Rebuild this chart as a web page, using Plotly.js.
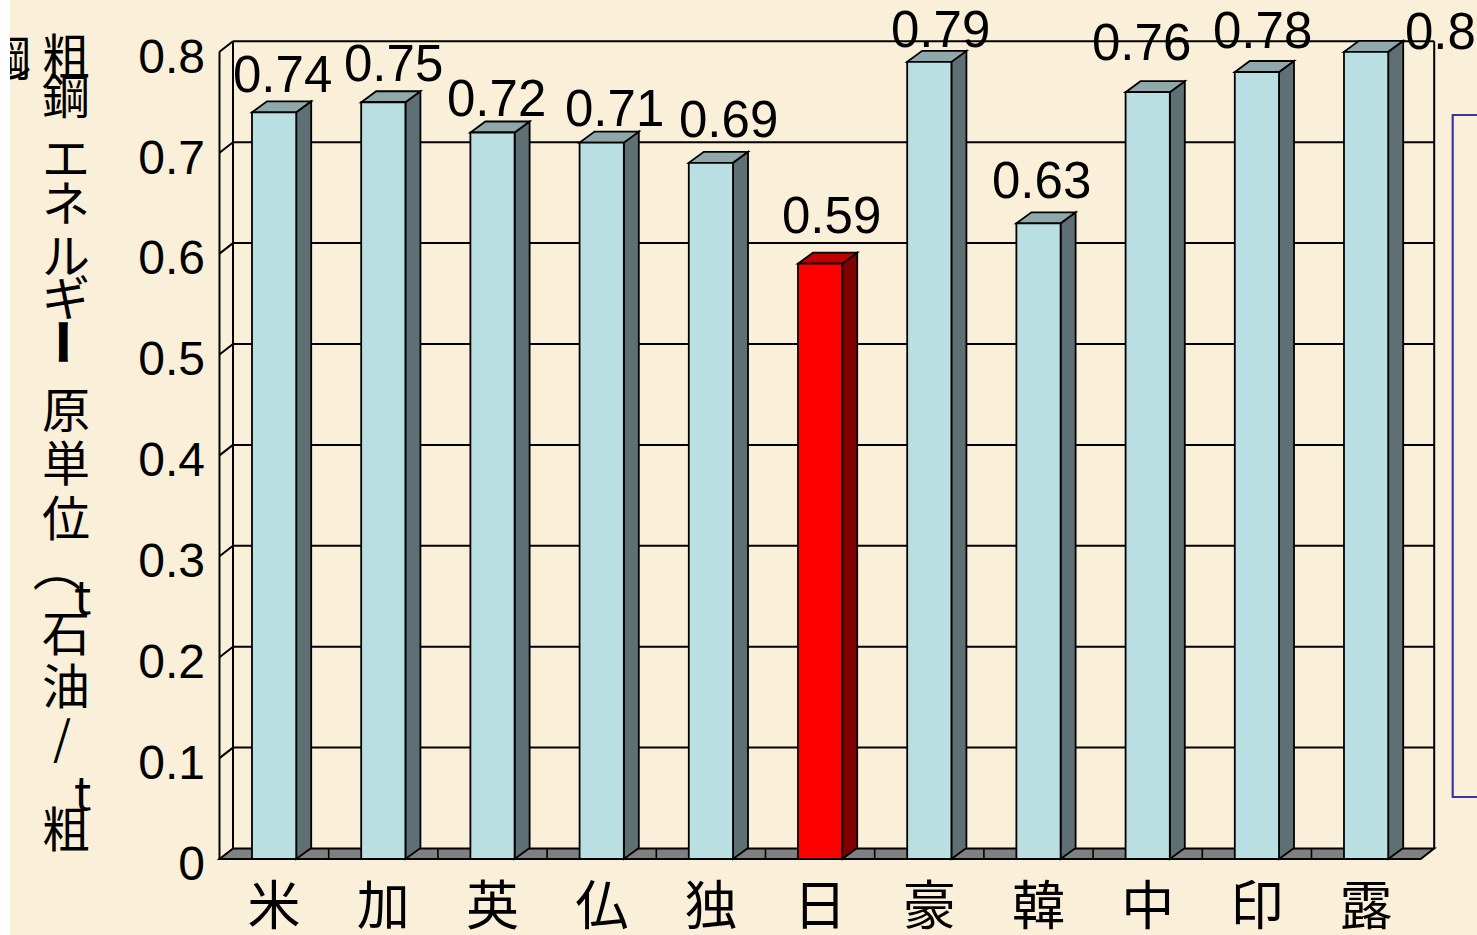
<!DOCTYPE html>
<html><head><meta charset="utf-8">
<script src="https://cdn.plot.ly/plotly-3.0.1.min.js"></script>
<style>
html,body{margin:0;padding:0;background:#ffffff;width:1477px;height:935px;overflow:hidden;}
#chart{position:absolute;left:10px;top:0;width:1467px;height:935px;}
</style></head><body><div id="chart"></div>
<script>
// ---------------- data ----------------
const categories = ['米','加','英','仏','独','日','豪','韓','中','印','露'];
const values = [0.74, 0.75, 0.72, 0.71, 0.69, 0.59, 0.79, 0.63, 0.76, 0.78, 0.80];
const valueLabels = ['0.74','0.75','0.72','0.71','0.69','0.59','0.79','0.63','0.76','0.78','0.80'];
const highlightCategory = '日';
const yTickValues = [0, 0.1, 0.2, 0.3, 0.4, 0.5, 0.6, 0.7, 0.8];
const yTickLabels = ['0','0.1','0.2','0.3','0.4','0.5','0.6','0.7','0.8'];
const axisTitle = '粗鋼エネルギー原単位（t石油/t粗鋼）';

// ---------------- styling / geometry ----------------
const W = 1467, H = 935;
const CAT_PX = 109.2, UNIT_PX = 1009;
const M = {l: 206, r: 40, t: 37, b: 74};
const plotW = W - M.l - M.r, plotH = H - M.t - M.b;
const xStart = -0.5 - 3.5 / CAT_PX;
const xRange = [xStart, xStart + plotW / CAT_PX];
const yStart = -2 / UNIT_PX;
const yRange = [yStart, yStart + plotH / UNIT_PX];
const WALL = {dx: 13.5 / CAT_PX, dy: 10.5 / UNIT_PX};
const BAR = {dx: 15 / CAT_PX, dy: 11 / UNIT_PX};
const BAR_W = 0.405;
const N = categories.length;
const xL = -0.5, xR = N - 0.5, yTop = yTickValues[yTickValues.length - 1];

const COL = {
  bg: '#FAEFD9',
  front: '#B9DFE3', side: '#5E7073', top: '#8FA8AB',
  hFront: '#FF0000', hSide: '#800000', hTop: '#C00000',
  floor: '#808080', line: '#000000', box: '#3838A0'
};
// label nudges in px (dx right, dy up) relative to bar top centre
const labelNudge = [[8,38],[10,39],[4,34],[13,34],[18,43],[11,48],[11,32],[3,43],[-6,50],[6,41],[88,20]];

const shapes = [];
const ln = (x0,y0,x1,y1,w) => shapes.push({type:'line',xref:'x',yref:'y',layer:'below',x0,y0,x1,y1,line:{color:COL.line,width:w||1.8}});
const poly = (pts, fill, w) => shapes.push({type:'path',xref:'x',yref:'y',layer:'below',
  path: 'M' + pts.map(p => p[0] + ',' + p[1]).join(' L') + ' Z', fillcolor: fill, line:{color:COL.line, width: w||1.6}});

// floor
poly([[xL,0],[xR,0],[xR+WALL.dx,WALL.dy],[xL+WALL.dx,WALL.dy]], COL.floor, 2);
for (let k = 0; k < N - 1; k++) ln(k + 0.5, 0, k + 0.5, WALL.dy, 1.6);
// walls + gridlines
ln(xL, 0, xL, yTop, 2);
ln(xL + WALL.dx, WALL.dy, xL + WALL.dx, yTop + WALL.dy, 2);
ln(xR + WALL.dx, WALL.dy, xR + WALL.dx, yTop + WALL.dy, 2);
yTickValues.forEach(v => {
  if (v === 0) return;
  ln(xL, v, xL + WALL.dx, v + WALL.dy, 2);
  ln(xL + WALL.dx, v + WALL.dy, xR + WALL.dx, v + WALL.dy, 2);
});
// 3D faces of the bars
values.forEach((v, i) => {
  const hi = categories[i] === highlightCategory;
  const xl = i - BAR_W / 2, xr = i + BAR_W / 2;
  poly([[xr,0],[xr,v],[xr+BAR.dx,v+BAR.dy],[xr+BAR.dx,BAR.dy]], hi ? COL.hSide : COL.side, 1.8);
  poly([[xl,v],[xr,v],[xr+BAR.dx,v+BAR.dy],[xl+BAR.dx,v+BAR.dy]], hi ? COL.hTop : COL.top, 1.8);
});
// right-hand text box (partly outside the picture)
const px2paperX = px => (px - M.l) / plotW;
const py2paperY = py => (H - M.b - py) / plotH;
shapes.push({type:'rect', xref:'paper', yref:'paper', layer:'above',
  x0: px2paperX(1452.7 - 10), x1: px2paperX(1500), y0: py2paperY(797), y1: py2paperY(115),
  line:{color:COL.box, width:2.2}, fillcolor:'rgba(0,0,0,0)'});

const annotations = [];
// value labels
values.forEach((v, i) => {
  annotations.push({x: i, y: v, xref:'x', yref:'y', text: valueLabels[i], showarrow:false,
    xanchor:'center', yanchor:'middle', xshift: labelNudge[i][0], yshift: labelNudge[i][1],
    font:{family:'"Liberation Sans", Arial, sans-serif', size:51, color:'#000'}});
});
// vertical axis title, character by character (page px positions)
const titleChars = Array.from(axisTitle);
const titlePos = [
  [66,53],[66,93],[66,155],[66,200],[66,253],[66,295],[66,342],[66,407],[66,460],[66,515],
  [60,568],[82,594],[66,630],[66,683],[62,735],[82,790],[66,826],
  [7,55],[10,89]
];
const rotated = new Set(['ー','（','）']);
titleChars.forEach((c, k) => {
  const p = titlePos[k];
  const isLatin = /[a-z\/]/.test(c);
  annotations.push({x:0, y:0, xref:'paper', yref:'paper', text:c, showarrow:false,
    xanchor:'center', yanchor:'middle', xshift: (p[0] - 10) - M.l, yshift: (H - M.b) - p[1],
    textangle: rotated.has(c) ? 90 : 0,
    font:{family:'"Noto Sans CJK JP", sans-serif', size: isLatin ? 46 : 48, color:'#000',
          weight: c === 'ー' ? 900 : 400}});
});

const trace = {
  type:'bar', x: categories, y: values, width: BAR_W,
  marker:{color: categories.map(c => c === highlightCategory ? COL.hFront : COL.front),
          line:{color:COL.line, width:1.8}},
  hoverinfo:'x+y'
};

const layout = {
  width: W, height: H, margin: M,
  paper_bgcolor: COL.bg, plot_bgcolor: COL.bg,
  showlegend: false,
  xaxis: {type:'category', range: xRange, showgrid:false, zeroline:false, showline:false, ticks:'',
          ticklabelstandoff: 10,
          tickfont:{family:'"Noto Sans CJK JP", sans-serif', size:53, color:'#000'}},
  yaxis: {range: yRange, showgrid:false, zeroline:false, showline:false, ticks:'',
          tickvals: yTickValues, ticktext: yTickLabels, ticklabelstandoff: 10, ticklabelshift: 4,
          tickfont:{family:'"Liberation Sans", Arial, sans-serif', size:48, color:'#000'}},
  shapes, annotations
};
Plotly.newPlot('chart', [trace], layout, {displayModeBar:false, staticPlot:true});
</script></body></html>
